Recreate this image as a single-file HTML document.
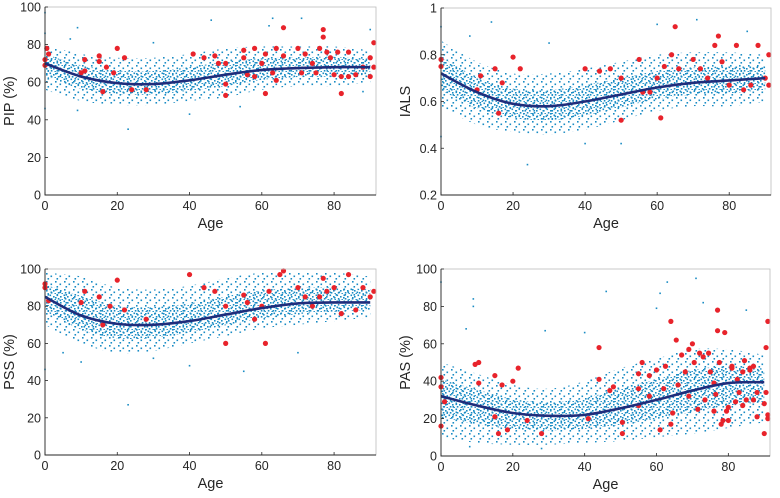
<!DOCTYPE html>
<html><head><meta charset="utf-8"><style>
body{margin:0;background:#fff;}
svg{display:block;font-family:"Liberation Sans",Arial,sans-serif;}
</style></head><body>
<svg id="c" width="780" height="498" viewBox="0 0 780 498">
<defs>
<pattern id="sparse" width="9" height="8" patternUnits="userSpaceOnUse">
<rect x="1" y="1" width="1.6" height="1.6" fill="#1a8cc4"/>
<rect x="5.5" y="3.5" width="1.6" height="1.6" fill="#1a8cc4"/>
<rect x="2.5" y="6" width="1.6" height="1.6" fill="#1a8cc4"/>
</pattern>
<pattern id="dense" width="7" height="6" patternUnits="userSpaceOnUse">
<rect x="0.5" y="0.5" width="1.6" height="1.6" fill="#1a8cc4"/>
<rect x="4" y="2" width="1.6" height="1.6" fill="#1a8cc4"/>
<rect x="1.8" y="4" width="1.6" height="1.6" fill="#1a8cc4"/>
<rect x="5.5" y="5" width="1.4" height="1.0" fill="#1a8cc4"/>
</pattern>
</defs>
</svg>
<script>
const ages=[0,10,20,30,40,50,60,70,80,90];
const pipTrend=[70,63,59.5,59,61,64,66.5,67.5,68,68];
const pipLo=[56,50,48,48,50,52,56,58,58,60];
const pipHi=[80,75,73,73,75,78,79,79,79,77];
const pipRed=[[0,72],[0,69],[0.5,78],[1,75],[10,65],[11,66],[11,72],[15,74],[15,71],[16,55],[17,68],[19,65],[20,78],[22,73],[24,56],[28,56],[41,75],[44,73],[47,74],[48,70],[50,70],[50,59],[50,53],[55,77],[55,73],[56,64],[58,63],[58,78],[60,70],[61,54],[61,75],[63,65],[64,78],[64,61],[66,89],[66,74],[70,78],[71,65],[72,75],[74,70],[75,65],[76,78],[77,88],[77,84],[78,76],[79,73],[80,64],[81,76],[82,63],[82,54],[84,76],[84,63],[86,64],[88,68],[90,73],[90,63],[91,81],[91,68]];
const pipBlue=[[0,97],[0,86],[0,46],[9,89],[9,45],[23,35],[46,93],[63,94],[71,94],[62,90],[54,47],[40,43],[30,81],[7,83],[88,55],[90,88]];
const ialsTrend=[0.72,0.64,0.59,0.58,0.60,0.63,0.66,0.68,0.69,0.70];
const ialsLo=[0.58,0.5,0.47,0.46,0.48,0.52,0.56,0.58,0.58,0.6];
const ialsHi=[0.86,0.77,0.72,0.72,0.74,0.77,0.8,0.81,0.81,0.8];
const ialsRed=[[0,0.78],[0,0.75],[10,0.65],[11,0.71],[15,0.74],[16,0.55],[17,0.68],[20,0.79],[22,0.74],[40,0.74],[44,0.73],[47,0.74],[50,0.70],[50,0.52],[55,0.78],[56,0.64],[58,0.64],[60,0.70],[61,0.53],[62,0.75],[64,0.80],[65,0.92],[66,0.74],[70,0.78],[72,0.74],[74,0.70],[76,0.84],[77,0.88],[78,0.77],[80,0.67],[82,0.84],[84,0.65],[86,0.67],[88,0.84],[90,0.70],[91,0.80],[91,0.67]];
const ialsBlue=[[0,0.92],[0,0.45],[14,0.94],[24,0.33],[40,0.42],[50,0.42],[60,0.93],[71,0.95],[30,0.85],[85,0.9],[8,0.88]];
const pssTrend=[85,75,70.5,70,72,75.5,79,81.5,82,82];
const pssLo=[70,60,55,56,60,64,68,70,72,74];
const pssHi=[98,96,90,89,91,95,98,98,98,96];
const pssRed=[[0,92],[0,90],[1,83],[10,82],[11,88],[15,85],[16,70],[18,80],[20,94],[22,78],[28,73],[40,97],[44,90],[47,88],[50,80],[50,60],[55,86],[56,82],[58,73],[60,80],[61,60],[62,88],[65,97],[66,99],[70,90],[72,85],[74,80],[76,85],[77,95],[78,88],[80,90],[82,76],[84,97],[86,78],[88,90],[90,85],[91,88]];
const pssBlue=[[0,46],[23,27],[10,50],[40,48],[55,45],[30,52],[70,55],[5,55]];
const pasTrend=[32,27,23,21.5,22,25.5,30,35,39,39.5];
const pasLo=[10,7,6,6,7,8,10,12,15,18];
const pasHi=[50,44,38,36,40,47,52,57,57,54];
const pasRed=[[0,42],[0,37],[0,16],[1,29],[9.5,49],[10.5,50],[10.5,39],[15,43],[15,21],[16,12],[17,38],[18.5,14],[20,40],[21.5,47],[24,19],[28,12],[41,20],[44,41],[44,58],[47,35],[48,37],[50.5,18],[50.5,12],[55,44],[55,27],[55,36],[56,50],[58,32],[58,43],[60,46],[61,14],[62,36],[62.5,48],[64,17],[64,72],[64.5,23],[65.5,62],[66,38],[67,54],[68,45],[69,32],[69,57],[70,60],[70.5,50],[71.5,25],[72,55],[73,53],[73.5,30],[74.5,55],[75,45],[76,39],[76,24],[76.5,33],[77,78],[77,67],[77.5,50],[78,17],[78.5,19],[79,66],[79.5,24],[80,26],[80,19],[81,48],[81,47],[82,29],[82.5,41],[83,34],[84,45],[84,27],[84.5,51],[85,30],[86,47],[86,46],[87,48],[87,30],[88,34],[88,21],[90,28],[90,12],[90.5,58],[90.5,34],[91,72],[91,22],[91,20]];
const pasBlue=[[0,93],[9,84],[9,80],[46,88],[61,87],[63,93],[71,95],[73,82],[7,68],[29,67],[40,66],[60,79],[28,4],[8,5],[85,78]];
const xTicks=[0,20,40,60,80];
const yTicksPct=[0,20,40,60,80,100];
const yTicksIals=[0.2,0.4,0.6,0.8,1];
const yTickLabelsIals=["0.2","0.4","0.6","0.8","1"];

const NS="http://www.w3.org/2000/svg";
const svg=document.getElementById('c');
function mk(tag,attrs,parent){const e=document.createElementNS(NS,tag);for(const k in attrs)e.setAttribute(k,attrs[k]);parent.appendChild(e);return e;}
const panels=[
 {key:'pip',label:'PIP (%)',px0:45,px1:376,py0:195,py1:7,ymin:0,ymax:100,yt:yTicksPct,ytl:null,trend:pipTrend,lo:pipLo,hi:pipHi,red:pipRed,blue:pipBlue},
 {key:'ials',label:'IALS',px0:441,px1:771,py0:195,py1:8,ymin:0.2,ymax:1,yt:yTicksIals,ytl:yTickLabelsIals,trend:ialsTrend,lo:ialsLo,hi:ialsHi,red:ialsRed,blue:ialsBlue},
 {key:'pss',label:'PSS (%)',px0:45,px1:376,py0:455,py1:269,ymin:0,ymax:100,yt:yTicksPct,ytl:null,trend:pssTrend,lo:pssLo,hi:pssHi,red:pssRed,blue:pssBlue},
 {key:'pas',label:'PAS (%)',px0:441,px1:770,py0:456,py1:269,ymin:0,ymax:100,yt:yTicksPct,ytl:null,trend:pasTrend,lo:pasLo,hi:pasHi,red:pasRed,blue:pasBlue}
];
const XMAX=91.6;
function smooth(pts){let d='M'+pts[0][0]+','+pts[0][1];for(let i=0;i<pts.length-1;i++){const p0=pts[Math.max(0,i-1)],p1=pts[i],p2=pts[i+1],p3=pts[Math.min(pts.length-1,i+2)];const c1=[p1[0]+(p2[0]-p0[0])/6,p1[1]+(p2[1]-p0[1])/6],c2=[p2[0]-(p3[0]-p1[0])/6,p2[1]-(p3[1]-p1[1])/6];d+=' C'+c1+' '+c2+' '+p2;}return d;}
panels.forEach(p=>{
 const g=mk('g',{},svg);
 
 
 const sx=v=>p.px0+(p.px1-p.px0)*v/XMAX;
 const sy=v=>p.py0+(p.py1-p.py0)*(v-p.ymin)/(p.ymax-p.ymin);
 const top=ages.map((a,i)=>[sx(a),sy(p.hi[i])]);
 const bot=ages.map((a,i)=>[sx(a),sy(p.lo[i])]).reverse();
 const band=mk('path',{d:smooth(top)+' L'+bot[0]+' '+smooth(bot).slice(1)+' Z',fill:'url(#sparse)'},g);
 
 
 const core=ages.map((a,i)=>[sx(a),sy(p.trend[i]+(p.hi[i]-p.trend[i])*0.5)]);
 const core2=ages.map((a,i)=>[sx(a),sy(p.trend[i]-(p.trend[i]-p.lo[i])*0.5)]).reverse();
 const cb=mk('path',{d:smooth(core)+' L'+core2[0]+' '+smooth(core2).slice(1)+' Z',fill:'url(#dense)'},g);
 
 
 p.blue.forEach(b=>{const c=mk('rect',{x:sx(b[0])-0.8,y:sy(b[1])-0.8,width:1.6,height:1.6,fill:'#1a8cc4'},g);
  
  });
 p.red.forEach(r=>{const c=mk('circle',{cx:sx(r[0]),cy:sy(r[1]),r:2.6,fill:'#e8232b'},g);
  
  });
 const tl=mk('path',{d:smooth(ages.map((a,i)=>[sx(a),sy(p.trend[i])])),fill:'none',stroke:'#1f2d7b','stroke-width':2.6},g);
 
 
 mk('rect',{x:p.px0,y:p.py1,width:p.px1-p.px0,height:p.py0-p.py1,fill:'none',stroke:'#bdbdbd','stroke-width':0.8},g);
 const ax=mk('path',{d:`M${p.px0},${p.py1} V${p.py0} H${p.px1}`,fill:'none',stroke:'#262626','stroke-width':0.9},g);
 
 
 xTicks.forEach(t=>{const x=sx(t);mk('line',{x1:x,x2:x,y1:p.py0,y2:p.py0-3,stroke:'#262626','stroke-width':0.8},g);
  const tx=mk('text',{x:x,y:p.py0+15,'text-anchor':'middle','font-size':12.5,fill:'#262626'},g);tx.textContent=t;
  
  });
 p.yt.forEach((t,i)=>{const y=sy(t);mk('line',{x1:p.px0,x2:p.px0+3,y1:y,y2:y,stroke:'#262626','stroke-width':0.8},g);
  const tx=mk('text',{x:p.px0-4,y:y+4.5,'text-anchor':'end','font-size':12.5,fill:'#262626'},g);tx.textContent=p.ytl?p.ytl[i]:t;
  
  });
 const xl=mk('text',{x:(p.px0+p.px1)/2,y:p.py0+33,'text-anchor':'middle','font-size':14.5,fill:'#262626'},g);xl.textContent='Age';
 
 
 const ym=(p.py0+p.py1)/2;
 const yl=mk('text',{x:p.px0-31,y:ym,'text-anchor':'middle','font-size':14.5,fill:'#262626',transform:`rotate(-90 ${p.px0-31} ${ym})`},g);yl.textContent=p.label;
 
 
});
</script>
</body></html>
